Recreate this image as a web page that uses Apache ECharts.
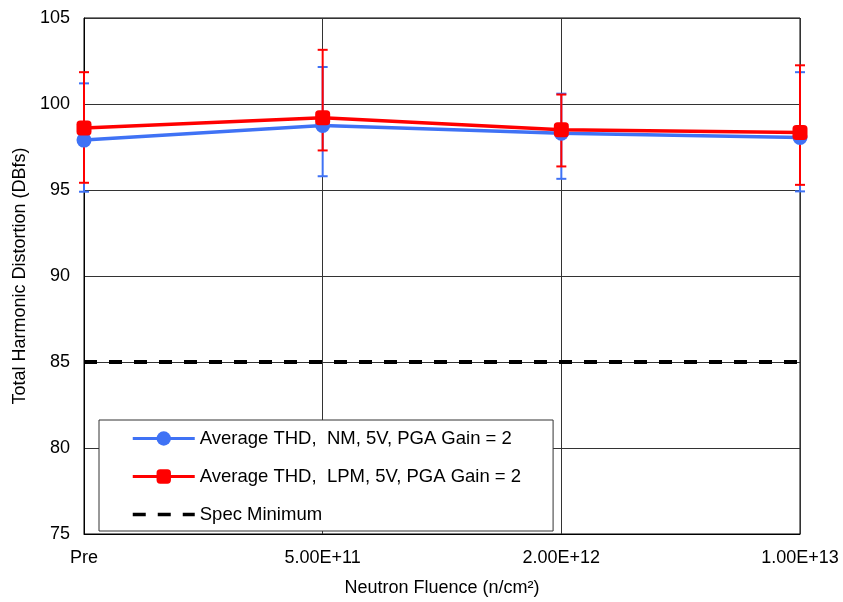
<!DOCTYPE html>
<html>
<head>
<meta charset="utf-8">
<script src="https://cdn.jsdelivr.net/npm/echarts@6/dist/echarts.min.js"></script>
<style>html,body{margin:0;padding:0;background:#fff;}#c{width:843px;height:602px;}</style>
</head>
<body>
<div id="c"></div>
<script>
const categories = ['Pre', '5.00E+11', '2.00E+12', '1.00E+13'];
const nmAvg = [97.9, 98.75, 98.3, 98.05];
const nmLow = [94.9, 95.8, 95.65, 94.92];
const nmHigh = [101.2, 102.15, 100.6, 101.85];
const lpmAvg = [98.6, 99.2, 98.5, 98.35];
const lpmLow = [95.42, 97.3, 96.37, 95.3];
const lpmHigh = [101.85, 103.15, 100.55, 102.25];
const specMin = [85, 85, 85, 85];
const yTicks = [75, 80, 85, 90, 95, 100, 105];

const BLUE = '#3f72f5';
const RED = '#ff0000';
const FONT = 'Liberation Sans, Arial, sans-serif';
const NM = 'Average THD,  NM, 5V, PGA Gain = 2';
const LPM = 'Average THD,  LPM, 5V, PGA Gain = 2';
const SPEC = 'Spec Minimum';

function errData(low, high) {
  return categories.map((c, i) => [i, low[i], high[i]]);
}
function errRender(color) {
  return function (params, api) {
    const x = api.value(0);
    const lo = api.coord([x, api.value(1)]);
    const hi = api.coord([x, api.value(2)]);
    const hw = 5;
    const style = { stroke: color, lineWidth: 2 };
    return {
      type: 'group',
      children: [
        { type: 'line', shape: { x1: lo[0], y1: lo[1], x2: hi[0], y2: hi[1] }, style: style },
        { type: 'line', shape: { x1: lo[0] - hw, y1: lo[1], x2: lo[0] + hw, y2: lo[1] }, style: style },
        { type: 'line', shape: { x1: hi[0] - hw, y1: hi[1], x2: hi[0] + hw, y2: hi[1] }, style: style }
      ]
    };
  };
}

const chart = echarts.init(document.getElementById('c'), null, { renderer: 'canvas' });
chart.setOption({
  animation: false,
  backgroundColor: '#fff',
  textStyle: { fontFamily: FONT },
  grid: { left: 84, right: 43, top: 18, bottom: 64, show: true, borderColor: '#000', borderWidth: 1, backgroundColor: '#fff' },
  legend: {
    orient: 'vertical',
    left: 99, top: 420,
    data: [
      { name: NM, lineStyle: { width: 3 } },
      { name: LPM, lineStyle: { width: 3 } },
      { name: SPEC, lineStyle: { width: 3.5, type: [13, 12] }, itemStyle: { color: 'rgba(0,0,0,0)', opacity: 0 } }
    ],
    itemWidth: 62, itemHeight: 18, itemGap: 19,
    padding: [9, 32, 7, 32],
    borderColor: '#333', borderWidth: 1, backgroundColor: '#fff',
    textStyle: { fontSize: 18.5, lineHeight: 18, color: '#000', fontFamily: FONT },
    z: 10
  },
  xAxis: {
    type: 'category',
    data: categories,
    boundaryGap: false,
    name: 'Neutron Fluence (n/cm²)',
    nameLocation: 'middle',
    nameGap: 45,
    nameTextStyle: { fontSize: 18, color: '#000' },
    axisLine: { lineStyle: { color: '#000' } },
    axisTick: { show: false },
    axisLabel: { fontSize: 18, color: '#000', margin: 15 },
    splitLine: { show: true, lineStyle: { color: '#333', width: 1 } }
  },
  yAxis: {
    type: 'value',
    min: 75, max: 105, interval: 5,
    name: 'Total Harmonic Distortion (DBfs)',
    nameLocation: 'middle',
    nameGap: 55,
    nameTextStyle: { fontSize: 18, color: '#000' },
    axisLine: { show: true, lineStyle: { color: '#000' } },
    axisTick: { show: false },
    axisLabel: { fontSize: 18, color: '#000', margin: 14 },
    splitLine: { show: true, lineStyle: { color: '#333', width: 1 } }
  },
  series: [
    { type: 'custom', name: 'nmErr', data: errData(nmLow, nmHigh), renderItem: errRender(BLUE), z: 3, silent: true },
    { type: 'custom', name: 'lpmErr', data: errData(lpmLow, lpmHigh), renderItem: errRender(RED), z: 3, silent: true },
    {
      type: 'line', name: SPEC, data: specMin, symbol: 'none', z: 4,
      lineStyle: { color: '#000', width: 4, type: [13, 12] },
      itemStyle: { color: '#000' }
    },
    {
      type: 'line', name: NM, data: nmAvg, z: 5,
      symbol: 'circle', symbolSize: 15,
      lineStyle: { color: BLUE, width: 3.5 }, itemStyle: { color: BLUE }
    },
    {
      type: 'line', name: LPM, data: lpmAvg, z: 6,
      symbol: 'roundRect', symbolSize: 15,
      lineStyle: { color: RED, width: 3.5 }, itemStyle: { color: RED }
    }
  ]
});
</script>
</body>
</html>
